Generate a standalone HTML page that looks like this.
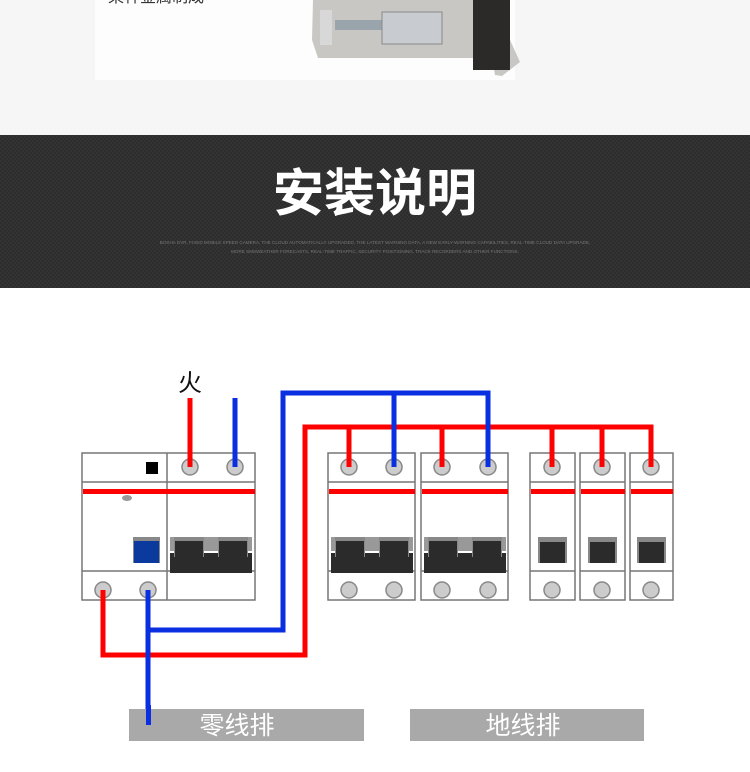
<!DOCTYPE html>
<html><head><meta charset="utf-8"><style>
html,body{margin:0;padding:0;width:750px;height:772px;overflow:hidden;background:#fff;font-family:"Liberation Sans","Noto Sans CJK SC",sans-serif}
</style></head><body>
<svg width="750" height="772" viewBox="0 0 750 772" xmlns="http://www.w3.org/2000/svg" style="display:block">
<defs>
<pattern id="dp" width="4" height="4" patternUnits="userSpaceOnUse"><rect width="4" height="4" fill="#2d2d2d"/><rect width="2" height="2" fill="#333"/><rect x="2" y="2" width="2" height="2" fill="#333"/></pattern>
<g id="bk2"><rect x="0" y="0" width="82" height="14" fill="#999"/><rect x="0" y="2" width="82" height="12" fill="#999"/><path d="M0 16 H82 V36 H0Z" fill="#2b2b2b"/><rect x="4" y="0" width="30" height="20" fill="#888"/><rect x="48" y="0" width="30" height="20" fill="#888"/><rect x="5" y="4" width="28" height="16" fill="#2b2b2b"/><rect x="49" y="4" width="28" height="16" fill="#2b2b2b"/></g>
</defs>
<!-- top area -->
<rect x="0" y="0" width="750" height="135" fill="#f6f6f6"/>
<rect x="95" y="0" width="420" height="80" fill="#fdfdfd"/>
<text x="108" y="2" font-size="16" fill="#333">某种金属制成</text>
<g>
<path d="M313 0 H505 L510 40 L520 62 L502 76 L495 75 L492 58 H318 L312 40Z" fill="#c9c7c3"/>
<rect x="473" y="0" width="37" height="70" fill="#2c2a28"/>
<rect x="335" y="20" width="60" height="10" fill="#9aa4ad"/>
<rect x="382" y="12" width="60" height="32" fill="#c8ccd0" stroke="#888"/>
<rect x="320" y="10" width="12" height="35" fill="#d8d8d8"/>
</g>
<!-- banner -->
<rect x="0" y="135" width="750" height="153" fill="url(#dp)"/>
<text x="375" y="211" font-size="51" font-weight="bold" fill="#fff" text-anchor="middle" font-family="'Noto Sans CJK SC',sans-serif">安装说明</text>
<text x="375" y="244" font-size="4.6" fill="#777" text-anchor="middle">BOSHA DVR, FIXED MOBILE SPEED CAMERA, THE CLOUD AUTOMATICALLY UPGRADED, THE LATEST WARNING DATA, A NEW EARLY-WARNING CAPABILITIES, REAL-TIME CLOUD DATA UPGRADE,</text>
<text x="375" y="253" font-size="4.6" fill="#777" text-anchor="middle">MORE SMSWEATHER FORECASTS, REAL-TIME TRAFFIC, SECURITY POSITIONING, TRACK RECORDERS AND OTHER FUNCTIONS.</text>

<!-- boxes -->
<g stroke="#777" stroke-width="1.5" fill="#fff">
<rect x="82" y="453" width="173" height="147"/>
<line x1="167" y1="453" x2="167" y2="600"/>
<line x1="82" y1="482" x2="255" y2="482"/>
<line x1="82" y1="571" x2="255" y2="571"/>
<rect x="328" y="453" width="87" height="147"/>
<rect x="421" y="453" width="87" height="147"/>
<rect x="530" y="453" width="45" height="147"/>
<rect x="580" y="453" width="45" height="147"/>
<rect x="630" y="453" width="43" height="147"/>
<line x1="328" y1="482" x2="415" y2="482"/><line x1="421" y1="482" x2="508" y2="482"/>
<line x1="530" y1="482" x2="575" y2="482"/><line x1="580" y1="482" x2="625" y2="482"/><line x1="630" y1="482" x2="673" y2="482"/>
<line x1="328" y1="571" x2="415" y2="571"/><line x1="421" y1="571" x2="508" y2="571"/>
<line x1="530" y1="571" x2="575" y2="571"/><line x1="580" y1="571" x2="625" y2="571"/><line x1="630" y1="571" x2="673" y2="571"/>
</g>
<g fill="#f00">
<rect x="83" y="489" width="172" height="5"/>
<rect x="329" y="489" width="86" height="5"/><rect x="422" y="489" width="86" height="5"/>
<rect x="531" y="489" width="44" height="5"/><rect x="581" y="489" width="44" height="5"/><rect x="631" y="489" width="42" height="5"/>
</g>
<rect x="146" y="462" width="12" height="12" fill="#000"/>
<ellipse cx="127" cy="498" rx="5" ry="3" fill="#999"/>
<rect x="133" y="537" width="27" height="26" fill="#888"/><rect x="134" y="541" width="25" height="22" fill="#0b3a9e"/>
<use href="#bk2" x="170" y="537"/>
<use href="#bk2" x="331" y="537"/>
<use href="#bk2" x="424" y="537"/>
<g fill="#888"><rect x="538" y="537" width="29" height="26"/><rect x="588" y="537" width="29" height="26"/><rect x="637" y="537" width="29" height="26"/></g>
<g fill="#2b2b2b"><rect x="540" y="542" width="25" height="21"/><rect x="590" y="542" width="25" height="21"/><rect x="639" y="542" width="25" height="21"/></g>
<!-- terminals -->
<g fill="#ccc" stroke="#888" stroke-width="1.5">
<circle cx="190" cy="467" r="8"/><circle cx="235" cy="467" r="8"/>
<circle cx="103" cy="590" r="8"/><circle cx="148" cy="590" r="8"/>
<circle cx="349" cy="467" r="8"/><circle cx="394" cy="467" r="8"/><circle cx="442" cy="467" r="8"/><circle cx="488" cy="467" r="8"/>
<circle cx="349" cy="590" r="8"/><circle cx="394" cy="590" r="8"/><circle cx="442" cy="590" r="8"/><circle cx="488" cy="590" r="8"/>
<circle cx="552" cy="467" r="8"/><circle cx="602" cy="467" r="8"/><circle cx="651" cy="467" r="8"/>
<circle cx="552" cy="590" r="8"/><circle cx="602" cy="590" r="8"/><circle cx="651" cy="590" r="8"/>
</g>
<!-- wires -->
<g fill="none" stroke="#f00" stroke-width="5">
<path d="M190 398 V467"/>
<path d="M103 590 V655 H305 V427 H651 V467"/>
<path d="M349 427 V467 M442 427 V467 M552 427 V467 M602 427 V467"/>
</g>
<g fill="none" stroke="#0a2fe0" stroke-width="5">
<path d="M235 398 V467"/>
<path d="M148 590 V725"/>
<path d="M148 630 H283 V393 H488 V467"/>
<path d="M394 393 V467"/>
</g>
<text x="190" y="391" font-size="24" text-anchor="middle" fill="#111" font-family="'Noto Sans CJK SC',sans-serif">火</text>
<!-- bars -->
<rect x="129" y="709" width="235" height="32" fill="#a9a9a9"/>
<rect x="410" y="709" width="234" height="32" fill="#a9a9a9"/>
<rect x="146" y="705" width="5" height="20" fill="#0a2fe0"/>
<text x="237" y="734" font-size="25" fill="#fff" text-anchor="middle" font-family="'Noto Sans CJK SC',sans-serif">零线排</text>
<text x="523" y="734" font-size="25" fill="#fff" text-anchor="middle" font-family="'Noto Sans CJK SC',sans-serif">地线排</text>
</svg>
</body></html>
